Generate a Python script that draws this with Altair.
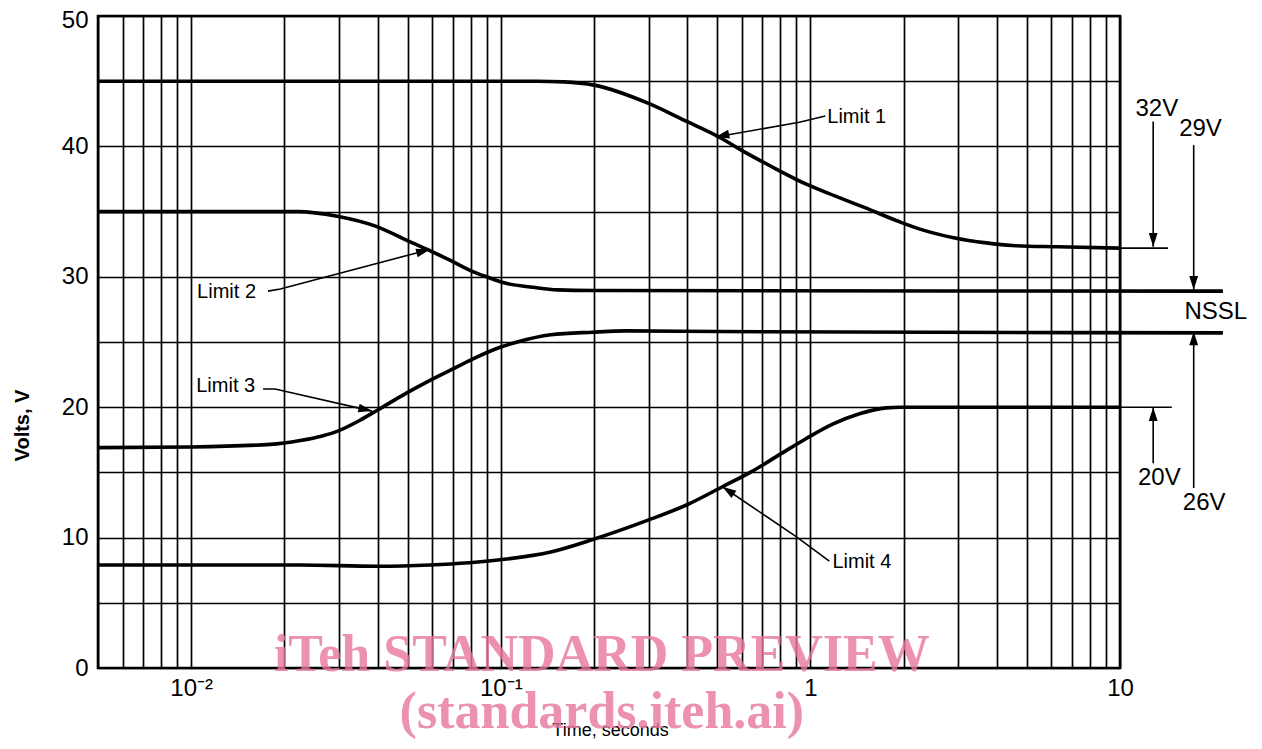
import altair as alt
import pandas as pd

# ---------------- data ----------------
L1_t = [0.005, 0.13, 0.16, 0.2, 0.3, 0.4, 0.5, 0.62, 0.77, 0.97, 1.2, 1.5, 1.95, 2.3, 2.9, 3.7, 4.5, 6.3, 10]
L1_v = [45.0, 45.0, 44.95, 44.7, 43.3, 41.9, 40.8, 39.5, 38.3, 37.1, 36.2, 35.3, 34.2, 33.6, 33.0, 32.6, 32.4, 32.3, 32.2]

L2_t = [0.005, 0.022, 0.0296, 0.0398, 0.0497, 0.059, 0.0695, 0.0795, 0.09, 0.104, 0.127, 0.152, 0.2, 21.5]
L2_v = [35.0, 35.0, 34.65, 33.85, 32.8, 32.0, 31.2, 30.5, 30.0, 29.5, 29.2, 29.0, 28.95, 28.9]

L3_t = [0.005, 0.01, 0.018, 0.0225, 0.0265, 0.0296, 0.0351, 0.0398, 0.0497, 0.0595, 0.0695, 0.0795, 0.0995, 0.113, 0.145, 0.198, 0.254, 0.51, 21.5]
L3_v = [16.9, 16.95, 17.15, 17.45, 17.8, 18.15, 19.0, 19.75, 21.1, 22.1, 22.9, 23.6, 24.6, 25.0, 25.55, 25.75, 25.85, 25.8, 25.7]

L4_t = [0.005, 0.0225, 0.0398, 0.059, 0.0995, 0.145, 0.198, 0.296, 0.398, 0.52, 0.65, 0.8, 0.97, 1.18, 1.44, 1.76, 1.95, 10]
L4_v = [7.9, 7.9, 7.8, 7.9, 8.3, 8.9, 9.85, 11.3, 12.5, 13.9, 15.1, 16.4, 17.6, 18.7, 19.5, 19.95, 20.0, 20.0]

# grid / tick values
x_grid = [round(m * d, 6) for d in [0.001, 0.01, 0.1, 1] for m in range(1, 10) if 0.005 <= m * d <= 10] + [10]
y_grid = [0, 5, 10, 15, 20, 25, 30, 35, 40, 45, 50]

# annotation texts
lab_text = ["Limit 1", "Limit 2", "Limit 3", "Limit 4"]
lab_t = [1.134, 0.01045, 0.01038, 1.178]
lab_v = [42.25, 28.83, 21.6, 8.13]

vlab_text = ["32V", "29V", "NSSL", "20V", "26V"]
vlab_t = [13.15, 18.2, 20.4, 13.4, 18.7]
vlab_v = [42.9, 41.3, 27.3, 14.6, 12.65]

# leader lines (id, t, v)
lead_id = [1, 1, 1, 2, 2, 2, 3, 3, 3, 4, 4, 4]
lead_t = [1.117, 0.921, 0.494, 0.0177, 0.0194, 0.0590, 0.01707, 0.01866, 0.0384, 1.151, 0.902, 0.52]
lead_v = [42.33, 41.85, 40.72, 28.9, 29.06, 32.1, 21.4, 21.4, 19.7, 8.2, 10.05, 13.9]

# vertical dimension arrows and extension lines (id, t, v)
dim_id = [1, 1, 2, 2, 3, 3, 4, 4, 5, 5, 6, 6]
dim_t = [12.8, 12.8, 17.3, 17.3, 12.8, 12.8, 17.3, 17.3, 10, 14.3, 10, 14.7]
dim_v = [41.9, 32.3, 40.1, 29.0, 15.7, 20.0, 13.8, 25.8, 32.2, 32.2, 20.0, 20.0]

# arrowheads (tip position and pointing angle)
head_t = [0.494, 0.0590, 0.0384, 0.52, 12.8, 17.3, 12.8, 17.3]
head_v = [40.72, 32.1, 19.7, 13.9, 32.3, 29.0, 20.0, 25.8]
head_a = [258, 75, 103, 304, 180, 180, 0, 0]

wm_text = ["iTeh STANDARD PREVIEW", "(standards.iteh.ai)"]
wm_t = [0.212, 0.212]
wm_v = [1.0, -3.4]

# ---------------- tables ----------------
curves = pd.concat([
    pd.DataFrame({"t": L1_t, "v": L1_v, "s": "Limit 1"}),
    pd.DataFrame({"t": L2_t, "v": L2_v, "s": "Limit 2"}),
    pd.DataFrame({"t": L3_t, "v": L3_v, "s": "Limit 3"}),
    pd.DataFrame({"t": L4_t, "v": L4_v, "s": "Limit 4"}),
], ignore_index=True)
curves["o"] = range(len(curves))

labels = pd.DataFrame({"t": lab_t, "v": lab_v, "txt": lab_text})
vlabels = pd.DataFrame({"t": vlab_t, "v": vlab_v, "txt": vlab_text})
leads = pd.DataFrame({"t": lead_t, "v": lead_v, "id": lead_id})
leads["o"] = range(len(leads))
dims = pd.DataFrame({"t": dim_t, "v": dim_v, "id": dim_id})
dims["o"] = range(len(dims))
heads = pd.DataFrame({"t": head_t, "v": head_v, "a": head_a})
wm = pd.DataFrame({"t": wm_t, "v": wm_v, "txt": wm_text})

FONT = "Liberation Sans"

x_label_expr = ("datum.value == 0.01 ? '10\u207b\u00b2' : datum.value == 0.1 ? '10\u207b\u00b9' : "
                "datum.value == 1 ? '1' : datum.value == 10 ? '10' : ''")

X = alt.X("t:Q",
          scale=alt.Scale(type="log", domain=[0.005, 10], nice=False),
          axis=alt.Axis(values=x_grid, grid=True, gridColor="black", gridWidth=1.7, gridOpacity=1,
                        ticks=False, domain=False, labelExpr=x_label_expr, labelFont=FONT,
                        labelFontSize=24, labelColor="black", labelPadding=8, labelOverlap=False,
                        labelFlush=False, title="Time, seconds", titleFont=FONT, titleFontSize=18,
                        titleFontWeight="normal", titleColor="black", titleX=512, titleY=62,
                        titleBaseline="middle"))
Y = alt.Y("v:Q",
          scale=alt.Scale(domain=[0, 50], nice=False),
          axis=alt.Axis(values=y_grid, grid=True, gridColor="black", gridWidth=1.7, gridOpacity=1,
                        ticks=False, domain=False,
                        labelExpr="datum.value % 10 === 0 ? datum.label : ''",
                        labelFont=FONT, labelFontSize=24, labelColor="black", labelPadding=10,
                        labelOffset={"condition": {"test": "datum.value === 50", "value": 4}, "value": 0},
                        labelOverlap=False, labelFlush=False,
                        title="Volts, V", titleFont=FONT, titleFontSize=20, titleFontWeight="bold",
                        titleColor="black", titleX=-76, titleY=409, titleBaseline="middle"))

curve_layer = alt.Chart(curves).mark_line(color="black", strokeWidth=3.6, interpolate="monotone").encode(
    x=X, y=Y, detail="s:N", order="o:Q")

lead_layer = alt.Chart(leads).mark_line(color="black", strokeWidth=1.6).encode(
    x=X, y=Y, detail="id:N", order="o:Q")

dim_layer = alt.Chart(dims).mark_line(color="black", strokeWidth=1.6).encode(
    x=X, y=Y, detail="id:N", order="o:Q")

head_layer = alt.Chart(heads).mark_point(
    shape="M0,0L0.32,1L-0.32,1Z", filled=True, color="black", opacity=1, size=760, strokeWidth=0
).encode(x=X, y=Y, angle=alt.Angle("a:Q", scale=None))

label_layer = alt.Chart(labels).mark_text(
    align="left", baseline="middle", font=FONT, fontSize=20, color="black").encode(
    x=X, y=Y, text="txt:N")

vlabel_layer = alt.Chart(vlabels).mark_text(
    align="center", baseline="middle", font=FONT, fontSize=24, color="black").encode(
    x=X, y=Y, text="txt:N")

wm_layer = alt.Chart(wm).mark_text(
    align="center", baseline="middle", font="Liberation Serif", fontSize=52, fontWeight="bold",
    color="#e8769c", opacity=0.8).encode(x=X, y=Y, text="txt:N")

chart = alt.layer(
    curve_layer, lead_layer, dim_layer, head_layer, label_layer, vlabel_layer, wm_layer
).properties(
    width=1022, height=652,
    autosize=alt.AutoSizeParams(type="none"),
    padding={"left": 90, "top": 8, "right": 132, "bottom": 73},
).configure_view(stroke="black", strokeWidth=2.6)

chart.save("out.html", embed_options={"renderer": "svg", "actions": False})
